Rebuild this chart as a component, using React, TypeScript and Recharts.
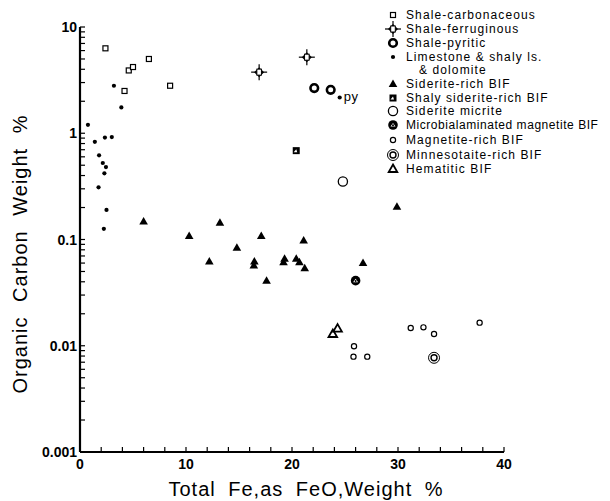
import React from 'react';
import { ScatterChart, Scatter, XAxis, YAxis } from 'recharts';

type P = { x: number; y: number };

const shaleCarbonaceous: P[] = [
  { x: 2.4, y: 6.3 }, { x: 4.6, y: 3.9 }, { x: 5.0, y: 4.2 },
  { x: 6.5, y: 5.0 }, { x: 4.2, y: 2.5 }, { x: 8.5, y: 2.8 },
];
const shaleFerruginous: P[] = [{ x: 16.9, y: 3.76 }, { x: 21.4, y: 5.2 }];
const shalePyritic: P[] = [{ x: 22.1, y: 2.66 }, { x: 23.65, y: 2.56 }];
const limestone: P[] = [
  { x: 3.2, y: 2.8 }, { x: 3.9, y: 1.75 }, { x: 0.75, y: 1.2 }, { x: 1.4, y: 0.83 },
  { x: 2.35, y: 0.91 }, { x: 3.0, y: 0.92 }, { x: 1.8, y: 0.62 }, { x: 2.15, y: 0.525 },
  { x: 2.45, y: 0.48 }, { x: 2.3, y: 0.42 }, { x: 1.75, y: 0.31 }, { x: 2.5, y: 0.19 },
  { x: 2.25, y: 0.126 },
];
const limestonePy: P[] = [{ x: 24.5, y: 2.17 }];
const pyLabel = 'py';
const sideriteRich: P[] = [
  { x: 6.0, y: 0.148 }, { x: 10.3, y: 0.108 }, { x: 13.2, y: 0.144 }, { x: 17.1, y: 0.108 },
  { x: 21.1, y: 0.098 }, { x: 14.8, y: 0.0835 }, { x: 12.2, y: 0.062 }, { x: 16.45, y: 0.062 },
  { x: 16.4, y: 0.057 }, { x: 19.3, y: 0.066 }, { x: 19.2, y: 0.061 }, { x: 20.4, y: 0.066 },
  { x: 20.7, y: 0.061 }, { x: 21.2, y: 0.0537 }, { x: 17.6, y: 0.041 }, { x: 29.9, y: 0.203 },
  { x: 26.7, y: 0.06 },
];
const shalySiderite: P[] = [{ x: 20.4, y: 0.686 }];
const sideriteMicrite: P[] = [{ x: 24.8, y: 0.352 }];
const microbialMagnetite: P[] = [{ x: 26.0, y: 0.041 }];
const magnetiteRich: P[] = [
  { x: 25.85, y: 0.0099 }, { x: 25.8, y: 0.0079 }, { x: 27.1, y: 0.0079 }, { x: 31.2, y: 0.0147 },
  { x: 32.4, y: 0.0149 }, { x: 33.4, y: 0.0129 }, { x: 37.7, y: 0.0165 },
];
const minnesotaite: P[] = [{ x: 33.4, y: 0.0077 }];
const hematitic: P[] = [{ x: 23.85, y: 0.0129 }, { x: 24.3, y: 0.0145 }];

const xTicks = [0, 2, 4, 6, 8, 10, 12, 14, 16, 18, 20, 22, 24, 26, 28, 30, 32, 34, 36, 38, 40];
const xLabels = [0, 10, 20, 30, 40];
const yDecades = [0.001, 0.01, 0.1, 1, 10];
const yLabels = ['0.001', '0.01', '0.1', '1', '10'];
const yMultipliers = [1, 2, 3, 4, 5, 6, 7, 8, 9];
const yTicks: number[] = [];
yDecades.slice(0, 4).forEach((d) => yMultipliers.forEach((k) => yTicks.push(parseFloat((d * k).toPrecision(3)))));
yTicks.push(10);

const legendItems = [
  'Shale-carbonaceous', 'Shale-ferruginous', 'Shale-pyritic', 'Limestone & shaly ls.',
  'Siderite-rich BIF', 'Shaly siderite-rich BIF', 'Siderite micrite', 'Microbialaminated magnetite BIF',
  'Magnetite-rich BIF', 'Minnesotaite-rich BIF', 'Hematitic BIF',
];
const legendSub = '& dolomite';

const K = '#000';

const SquareOpen = ({ cx, cy }: any) => (
  <rect x={cx - 2.5} y={cy - 2.5} width={5} height={5} fill="#fff" stroke={K} strokeWidth={1.2} />
);
const Ferruginous = ({ cx, cy }: any) => (
  <g>
    <line x1={cx - 8} y1={cy} x2={cx + 8} y2={cy} stroke={K} strokeWidth={1.2} />
    <line x1={cx} y1={cy - 8} x2={cx} y2={cy + 8} stroke={K} strokeWidth={1.2} />
    <path d={`M${cx},${cy - 5} L${cx + 5},${cy} L${cx},${cy + 5} L${cx - 5},${cy} Z`} fill={K} />
    <rect x={cx - 2.3} y={cy - 3} width={4.6} height={6} fill="#fff" stroke={K} strokeWidth={1} />
  </g>
);
const Pyritic = ({ cx, cy }: any) => (
  <circle cx={cx} cy={cy} r={3.8} fill="#fff" stroke={K} strokeWidth={2.6} />
);
const Dot = ({ cx, cy }: any) => <circle cx={cx} cy={cy} r={2.1} fill={K} />;
const DotPy = ({ cx, cy }: any) => (
  <g>
    <circle cx={cx} cy={cy} r={2.1} fill={K} />
    <text x={cx + 4} y={cy + 3} fontFamily="Liberation Sans, Arial, sans-serif" fontSize={13} fill={K} letterSpacing={0.5}>
      {pyLabel}
    </text>
  </g>
);
const TriFilled = ({ cx, cy }: any) => (
  <path d={`M${cx},${cy - 4.5} L${cx + 4.3},${cy + 3} L${cx - 4.3},${cy + 3} Z`} fill={K} />
);
const ShalySid = ({ cx, cy }: any) => (
  <g>
    <rect x={cx - 3.5} y={cy - 3.5} width={7} height={7} fill={K} />
    <path d={`M${cx - 2.5},${cy + 1.5} L${cx},${cy - 1.5} L${cx + 1},${cy + 1.5} Z`} fill="#fff" />
  </g>
);
const CircleOpen = ({ cx, cy }: any) => (
  <circle cx={cx} cy={cy} r={4.6} fill="#fff" stroke={K} strokeWidth={1.3} />
);
const Microbial = ({ cx, cy }: any) => (
  <g>
    <circle cx={cx} cy={cy} r={4.8} fill={K} />
    <path d={`M${cx - 2.5},${cy + 1.5} L${cx},${cy - 2} L${cx + 2.5},${cy + 1.5} Z`} fill="#fff" />
    <circle cx={cx} cy={cy + 0.3} r={1} fill={K} />
  </g>
);
const SmallCircle = ({ cx, cy }: any) => (
  <circle cx={cx} cy={cy} r={2.6} fill="#fff" stroke={K} strokeWidth={1.2} />
);
const DoubleCircle = ({ cx, cy }: any) => (
  <g>
    <circle cx={cx} cy={cy} r={5.5} fill="#fff" stroke={K} strokeWidth={1} />
    <circle cx={cx} cy={cy} r={3} fill="#fff" stroke={K} strokeWidth={1.4} />
  </g>
);
const TriOpen = ({ cx, cy }: any) => (
  <path d={`M${cx},${cy - 4.5} L${cx + 4.3},${cy + 3} L${cx - 4.3},${cy + 3} Z`} fill="#fff" stroke={K} strokeWidth={1.8} strokeLinejoin="miter" />
);

const legendShapes = [SquareOpen, Ferruginous, Pyritic, Dot, TriFilled, ShalySid, CircleOpen, Microbial, SmallCircle, DoubleCircle, TriOpen];
const legendRowsY = [15, 29, 43, 57, 84, 98, 111, 125, 140, 155, 169];

const FONT = 'Liberation Sans, Arial, Helvetica, sans-serif';

const XTick = (props: any) => {
  const { x, y, payload } = props;
  const v = payload.value;
  const show = xLabels.includes(v);
  return (
    <g>
      <line x1={x} y1={y} x2={x} y2={y - 5} stroke={K} strokeWidth={1.2} />
      {show && (
        <text x={x} y={y + 17} textAnchor="middle" fontFamily={FONT} fontWeight="bold" fontSize={14} fill={K}>
          {v}
        </text>
      )}
    </g>
  );
};

const YTick = (props: any) => {
  const { x, y, payload } = props;
  const v = payload.value;
  const idx = yDecades.findIndex((d) => Math.abs(d - v) / d < 1e-6);
  return (
    <g>
      <line x1={x} y1={y} x2={x + 5} y2={y} stroke={K} strokeWidth={1.2} />
      {idx >= 0 && (
        <text x={x - 3} y={y + 5} textAnchor="end" fontFamily={FONT} fontWeight="bold" fontSize={14} fill={K}>
          {yLabels[idx]}
        </text>
      )}
    </g>
  );
};

export default function App() {
  return (
    <div style={{ position: 'absolute', left: 0, top: 0, width: 610, height: 501, background: '#fff' }}>
      <ScatterChart width={610} height={501} margin={{ top: 27, right: 106, left: 20, bottom: 9 }}>
        <XAxis
          type="number"
          dataKey="x"
          domain={[0, 40]}
          ticks={xTicks}
          interval={0}
          tickSize={0}
          tickMargin={0}
          height={40}
          tick={<XTick />}
          tickLine={false}
          axisLine={{ stroke: K, strokeWidth: 2.2 }}
          allowDataOverflow
        />
        <YAxis
          type="number"
          dataKey="y"
          scale="log"
          domain={[0.001, 10]}
          ticks={yTicks}
          interval={0}
          tickSize={0}
          tickMargin={0}
          width={60}
          tick={<YTick />}
          tickLine={false}
          axisLine={{ stroke: K, strokeWidth: 2.2 }}
          allowDataOverflow
        />
        <Scatter data={shaleCarbonaceous} shape={SquareOpen} isAnimationActive={false} />
        <Scatter data={shaleFerruginous} shape={Ferruginous} isAnimationActive={false} />
        <Scatter data={shalePyritic} shape={Pyritic} isAnimationActive={false} />
        <Scatter data={limestone} shape={Dot} isAnimationActive={false} />
        <Scatter data={limestonePy} shape={DotPy} isAnimationActive={false} />
        <Scatter data={sideriteRich} shape={TriFilled} isAnimationActive={false} />
        <Scatter data={shalySiderite} shape={ShalySid} isAnimationActive={false} />
        <Scatter data={sideriteMicrite} shape={CircleOpen} isAnimationActive={false} />
        <Scatter data={microbialMagnetite} shape={Microbial} isAnimationActive={false} />
        <Scatter data={magnetiteRich} shape={SmallCircle} isAnimationActive={false} />
        <Scatter data={minnesotaite} shape={DoubleCircle} isAnimationActive={false} />
        <Scatter data={hematitic} shape={TriOpen} isAnimationActive={false} />
      </ScatterChart>
      <svg width={610} height={501} style={{ position: 'absolute', left: 0, top: 0, pointerEvents: 'none' }}>
        <text
          transform="translate(27,254) rotate(-90)"
          textAnchor="middle"
          fontFamily={FONT}
          fontSize={20}
          letterSpacing={1}
          wordSpacing={8}
          fill={K}
        >
          Organic Carbon Weight %
        </text>
        <text x={306} y={496} textAnchor="middle" fontFamily={FONT} fontSize={20} letterSpacing={1} wordSpacing={6} fill={K}>
          Total Fe,as FeO,Weight %
        </text>
        {legendItems.map((label, i) => {
          const Shape = legendShapes[i];
          const cy = legendRowsY[i];
          const long = label.length > 25;
          return (
            <g key={label}>
              <Shape cx={393} cy={cy} />
              <text x={406} y={cy + 4} fontFamily={FONT} fontSize={12} letterSpacing={long ? 0.55 : 1.1} fill={K}>
                {label}
              </text>
            </g>
          );
        })}
        <text x={419} y={74} fontFamily={FONT} fontSize={12} letterSpacing={1.1} fill={K}>
          {legendSub}
        </text>
      </svg>
    </div>
  );
}
